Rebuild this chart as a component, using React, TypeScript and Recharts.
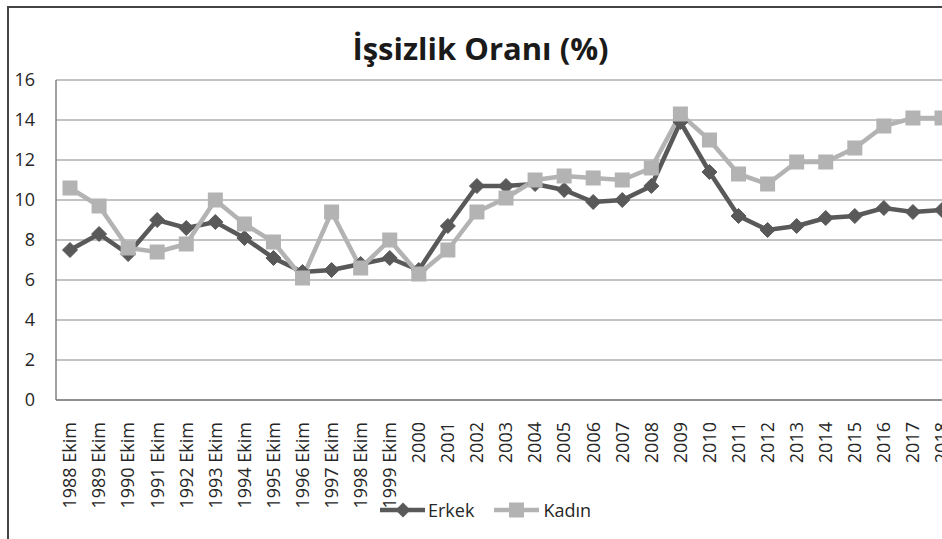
import React from 'react';
import { LineChart, Line, XAxis, YAxis, CartesianGrid, Legend } from 'recharts';

const categories = [
  '1988 Ekim', '1989 Ekim', '1990 Ekim', '1991 Ekim', '1992 Ekim', '1993 Ekim',
  '1994 Ekim', '1995 Ekim', '1996 Ekim', '1997 Ekim', '1998 Ekim', '1999 Ekim',
  '2000', '2001', '2002', '2003', '2004', '2005', '2006', '2007', '2008', '2009',
  '2010', '2011', '2012', '2013', '2014', '2015', '2016', '2017', '2018',
];
const erkek = [
  7.5, 8.3, 7.3, 9.0, 8.6, 8.9, 8.1, 7.1, 6.4, 6.5, 6.8, 7.1,
  6.5, 8.7, 10.7, 10.7, 10.8, 10.5, 9.9, 10.0, 10.7, 13.9, 11.4, 9.2, 8.5, 8.7, 9.1, 9.2, 9.6, 9.4, 9.5,
];
const kadin = [
  10.6, 9.7, 7.6, 7.4, 7.8, 10.0, 8.8, 7.9, 6.1, 9.4, 6.6, 8.0,
  6.3, 7.5, 9.4, 10.1, 11.0, 11.2, 11.1, 11.0, 11.6, 14.3, 13.0, 11.3, 10.8, 11.9, 11.9, 12.6, 13.7, 14.1, 14.1,
];
const yTicks = [0, 2, 4, 6, 8, 10, 12, 14, 16];
const titleText = 'İşsizlik Oranı (%)';
const seriesNames = ['Erkek', 'Kadın'];

const data = categories.map((c, i) => ({ cat: c, Erkek: erkek[i], Kadin: kadin[i] }));

const FONT = '"Open Sans", sans-serif';
const DARK = '#595959';
const LIGHT = '#B3B3B3';
const TEXT = '#262626';

const Diamond = (props: any) => {
  const { cx, cy } = props;
  if (cx == null || cy == null) return null;
  return (
    <polygon
      points={`${cx},${cy - 7.5} ${cx + 7.5},${cy} ${cx},${cy + 7.5} ${cx - 7.5},${cy}`}
      fill={DARK}
      stroke={DARK}
      strokeWidth={1}
    />
  );
};

const Square = (props: any) => {
  const { cx, cy } = props;
  if (cx == null || cy == null) return null;
  return <rect x={cx - 7.5} y={cy - 7.5} width={15} height={15} fill={LIGHT} />;
};

const XTick = (props: any) => {
  const { x, y, payload } = props;
  return (
    <text
      transform={`translate(${x},${y + 14}) rotate(-90)`}
      textAnchor="end"
      dy="0.35em"
      fontFamily={FONT}
      fontSize={18}
      fill={TEXT}
    >
      {payload.value}
    </text>
  );
};

const LegendContent = () => (
  <div style={{ display: 'flex', alignItems: 'center', fontFamily: FONT, fontSize: 18, color: TEXT }}>
    <svg width={45} height={18} style={{ display: 'block' }}>
      <line x1={0} y1={9} x2={45} y2={9} stroke={DARK} strokeWidth={4.5} />
      <polygon points="23,1.5 30.5,9 23,16.5 15.5,9" fill={DARK} />
    </svg>
    <span style={{ marginLeft: 3, marginRight: 20 }}>{seriesNames[0]}</span>
    <svg width={45} height={18} style={{ display: 'block' }}>
      <line x1={0} y1={9} x2={45} y2={9} stroke={LIGHT} strokeWidth={4.5} />
      <rect x={15} y={1.5} width={15} height={15} fill={LIGHT} />
    </svg>
    <span style={{ marginLeft: 4 }}>{seriesNames[1]}</span>
  </div>
);

export default function App() {
  return (
    <div
      style={{
        position: 'fixed',
        left: 0,
        top: 0,
        width: 942,
        height: 539,
        overflow: 'hidden',
        background: '#fff',
      }}
    >
      <div
        style={{
          position: 'absolute',
          left: 7,
          top: 6,
          width: 1000,
          height: 600,
          border: '2px solid #444',
          boxSizing: 'border-box',
        }}
      />
      <svg width={942} height={80} style={{ position: 'absolute', left: 0, top: 0 }}>
        <text x={480.5} y={60} textAnchor="middle" fontFamily={FONT} fontWeight={700} fontSize={31} fill="#1a1a1a">
          {titleText}
        </text>
      </svg>
      <div style={{ position: 'absolute', left: 0, top: 0 }}>
        <LineChart width={970} height={539} data={data} margin={{ top: 80, right: 13, bottom: 0, left: 0 }}>
          <CartesianGrid vertical={false} stroke="#868686" strokeWidth={1} />
          <XAxis
            dataKey="cat"
            height={139}
            interval={0}
            tickLine={false}
            axisLine={{ stroke: '#808080', strokeWidth: 1.5 }}
            padding={{ left: 14, right: 15 }}
            tick={<XTick />}
          />
          <YAxis
            width={56}
            domain={[0, 16]}
            ticks={yTicks}
            interval={0}
            tickLine={false}
            tickSize={0}
            tickMargin={21}
            axisLine={{ stroke: '#808080', strokeWidth: 1.5 }}
            tick={{ fontFamily: FONT, fontSize: 18, fill: TEXT }}
          />
          <Legend
            layout="horizontal"
            verticalAlign="middle"
            align="center"
            content={<LegendContent />}
            wrapperStyle={{ top: 498, left: 380, width: 'auto', height: 'auto' }}
          />
          <Line
            type="linear"
            dataKey="Erkek"
            name={seriesNames[0]}
            stroke={DARK}
            strokeWidth={4.5}
            dot={<Diamond />}
            activeDot={false}
            isAnimationActive={false}
          />
          <Line
            type="linear"
            dataKey="Kadin"
            name={seriesNames[1]}
            stroke={LIGHT}
            strokeWidth={4.5}
            dot={<Square />}
            activeDot={false}
            isAnimationActive={false}
          />
        </LineChart>
      </div>
    </div>
  );
}
